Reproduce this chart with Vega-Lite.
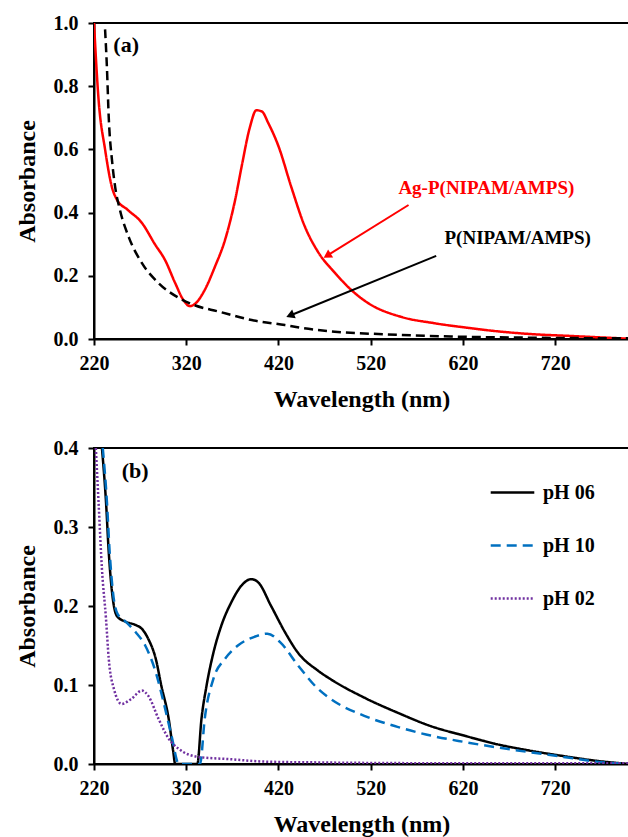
{
  "$schema": "https://vega.github.io/schema/vega-lite/v6.json",
  "padding": {"left": 14, "top": 12, "right": 0, "bottom": 0},
  "spacing": 25,
  "resolve": {"scale": {"color": "independent", "strokeDash": "independent"}, "legend": {"color": "independent", "strokeDash": "independent"}},
  "config": {
    "view": {"stroke": "black", "strokeWidth": 2},
    "font": "Liberation Serif, Times New Roman, DejaVu Serif, serif",
    "axis": {
      "domainColor": "black", "domainWidth": 2, "tickColor": "black", "tickWidth": 2, "tickSize": 6,
      "grid": false, "labelFont": "Liberation Serif, Times New Roman, DejaVu Serif, serif", "labelFontWeight": "bold", "labelFontSize": 20,
      "labelColor": "black", "titleFont": "Liberation Serif, Times New Roman, DejaVu Serif, serif", "titleFontWeight": "bold", "titleFontSize": 24,
      "titleColor": "black", "labelFlush": false, "labelOverlap": false
    },
    "axisX": {"labelPadding": 8, "titlePadding": 14},
    "axisY": {"labelPadding": 10, "titlePadding": 14}
  },
  "datasets": {
    "top": [
      {"series": "Ag", "nm": 220, "A": 1.0},
      {"series": "Ag", "nm": 225, "A": 0.756},
      {"series": "Ag", "nm": 232, "A": 0.6},
      {"series": "Ag", "nm": 239.5, "A": 0.48},
      {"series": "Ag", "nm": 245, "A": 0.44},
      {"series": "Ag", "nm": 256, "A": 0.41},
      {"series": "Ag", "nm": 272, "A": 0.367},
      {"series": "Ag", "nm": 286, "A": 0.30},
      {"series": "Ag", "nm": 297, "A": 0.25},
      {"series": "Ag", "nm": 308, "A": 0.177},
      {"series": "Ag", "nm": 317, "A": 0.123},
      {"series": "Ag", "nm": 324, "A": 0.104},
      {"series": "Ag", "nm": 329, "A": 0.11},
      {"series": "Ag", "nm": 340, "A": 0.155},
      {"series": "Ag", "nm": 351, "A": 0.228},
      {"series": "Ag", "nm": 362, "A": 0.313},
      {"series": "Ag", "nm": 373, "A": 0.44},
      {"series": "Ag", "nm": 380, "A": 0.545},
      {"series": "Ag", "nm": 389, "A": 0.67},
      {"series": "Ag", "nm": 396, "A": 0.724},
      {"series": "Ag", "nm": 402, "A": 0.72},
      {"series": "Ag", "nm": 409, "A": 0.683},
      {"series": "Ag", "nm": 420, "A": 0.61},
      {"series": "Ag", "nm": 434, "A": 0.48},
      {"series": "Ag", "nm": 448, "A": 0.36},
      {"series": "Ag", "nm": 463, "A": 0.275},
      {"series": "Ag", "nm": 481, "A": 0.21},
      {"series": "Ag", "nm": 499, "A": 0.155},
      {"series": "Ag", "nm": 517, "A": 0.114},
      {"series": "Ag", "nm": 553, "A": 0.07},
      {"series": "Ag", "nm": 589, "A": 0.05},
      {"series": "Ag", "nm": 626, "A": 0.035},
      {"series": "Ag", "nm": 662, "A": 0.023},
      {"series": "Ag", "nm": 697, "A": 0.015},
      {"series": "Ag", "nm": 734, "A": 0.01},
      {"series": "Ag", "nm": 770, "A": 0.005},
      {"series": "Ag", "nm": 800, "A": 0.001},
      {"series": "P", "nm": 232, "A": 0.98},
      {"series": "P", "nm": 234, "A": 0.86},
      {"series": "P", "nm": 236, "A": 0.70},
      {"series": "P", "nm": 239.5, "A": 0.566},
      {"series": "P", "nm": 243, "A": 0.48},
      {"series": "P", "nm": 248, "A": 0.41},
      {"series": "P", "nm": 258, "A": 0.32},
      {"series": "P", "nm": 272, "A": 0.24},
      {"series": "P", "nm": 290, "A": 0.177},
      {"series": "P", "nm": 312, "A": 0.13},
      {"series": "P", "nm": 329, "A": 0.107},
      {"series": "P", "nm": 355, "A": 0.087},
      {"series": "P", "nm": 391, "A": 0.06},
      {"series": "P", "nm": 427, "A": 0.044},
      {"series": "P", "nm": 445, "A": 0.035},
      {"series": "P", "nm": 481, "A": 0.023},
      {"series": "P", "nm": 535, "A": 0.015},
      {"series": "P", "nm": 607, "A": 0.008},
      {"series": "P", "nm": 697, "A": 0.004},
      {"series": "P", "nm": 800, "A": 0.002}
    ],
    "bottom": [
      {"pH": "pH 06", "nm": 228.6, "A": 0.4},
      {"pH": "pH 06", "nm": 233, "A": 0.332},
      {"pH": "pH 06", "nm": 236, "A": 0.268},
      {"pH": "pH 06", "nm": 239.5, "A": 0.218},
      {"pH": "pH 06", "nm": 245, "A": 0.187},
      {"pH": "pH 06", "nm": 254.5, "A": 0.18},
      {"pH": "pH 06", "nm": 265, "A": 0.176},
      {"pH": "pH 06", "nm": 272, "A": 0.171},
      {"pH": "pH 06", "nm": 279, "A": 0.158},
      {"pH": "pH 06", "nm": 287, "A": 0.133},
      {"pH": "pH 06", "nm": 293, "A": 0.099},
      {"pH": "pH 06", "nm": 301, "A": 0.057},
      {"pH": "pH 06", "nm": 306, "A": 0.015},
      {"pH": "pH 06", "nm": 308, "A": 0},
      {"pH": "pH 06", "nm": 332, "A": 0},
      {"pH": "pH 06", "nm": 336.5, "A": 0.057},
      {"pH": "pH 06", "nm": 342, "A": 0.099},
      {"pH": "pH 06", "nm": 349.5, "A": 0.141},
      {"pH": "pH 06", "nm": 358, "A": 0.175},
      {"pH": "pH 06", "nm": 369, "A": 0.205},
      {"pH": "pH 06", "nm": 380, "A": 0.226},
      {"pH": "pH 06", "nm": 390.5, "A": 0.234},
      {"pH": "pH 06", "nm": 398, "A": 0.23},
      {"pH": "pH 06", "nm": 412, "A": 0.2},
      {"pH": "pH 06", "nm": 427, "A": 0.167},
      {"pH": "pH 06", "nm": 441, "A": 0.141},
      {"pH": "pH 06", "nm": 463, "A": 0.118},
      {"pH": "pH 06", "nm": 477, "A": 0.107},
      {"pH": "pH 06", "nm": 513, "A": 0.084},
      {"pH": "pH 06", "nm": 549, "A": 0.065},
      {"pH": "pH 06", "nm": 585, "A": 0.048},
      {"pH": "pH 06", "nm": 621, "A": 0.036},
      {"pH": "pH 06", "nm": 657, "A": 0.025},
      {"pH": "pH 06", "nm": 692, "A": 0.017},
      {"pH": "pH 06", "nm": 729, "A": 0.01},
      {"pH": "pH 06", "nm": 765, "A": 0.004},
      {"pH": "pH 06", "nm": 800, "A": 0},
      {"pH": "pH 10", "nm": 229.5, "A": 0.4},
      {"pH": "pH 10", "nm": 234, "A": 0.332},
      {"pH": "pH 10", "nm": 237, "A": 0.268},
      {"pH": "pH 10", "nm": 240.5, "A": 0.218},
      {"pH": "pH 10", "nm": 245.5, "A": 0.19},
      {"pH": "pH 10", "nm": 254.5, "A": 0.18},
      {"pH": "pH 10", "nm": 265, "A": 0.167},
      {"pH": "pH 10", "nm": 275.5, "A": 0.15},
      {"pH": "pH 10", "nm": 287, "A": 0.116},
      {"pH": "pH 10", "nm": 295.5, "A": 0.078},
      {"pH": "pH 10", "nm": 304, "A": 0.036},
      {"pH": "pH 10", "nm": 312, "A": 0},
      {"pH": "pH 10", "nm": 335, "A": 0},
      {"pH": "pH 10", "nm": 340, "A": 0.057},
      {"pH": "pH 10", "nm": 349.5, "A": 0.108},
      {"pH": "pH 10", "nm": 362, "A": 0.133},
      {"pH": "pH 10", "nm": 376, "A": 0.15},
      {"pH": "pH 10", "nm": 394, "A": 0.161},
      {"pH": "pH 10", "nm": 408, "A": 0.165},
      {"pH": "pH 10", "nm": 422, "A": 0.154},
      {"pH": "pH 10", "nm": 441, "A": 0.125},
      {"pH": "pH 10", "nm": 463, "A": 0.095},
      {"pH": "pH 10", "nm": 477, "A": 0.082},
      {"pH": "pH 10", "nm": 513, "A": 0.061},
      {"pH": "pH 10", "nm": 549, "A": 0.047},
      {"pH": "pH 10", "nm": 585, "A": 0.036},
      {"pH": "pH 10", "nm": 621, "A": 0.028},
      {"pH": "pH 10", "nm": 657, "A": 0.021},
      {"pH": "pH 10", "nm": 692, "A": 0.015},
      {"pH": "pH 10", "nm": 729, "A": 0.009},
      {"pH": "pH 10", "nm": 765, "A": 0.003},
      {"pH": "pH 10", "nm": 800, "A": 0},
      {"pH": "pH 02", "nm": 222, "A": 0.4},
      {"pH": "pH 02", "nm": 225, "A": 0.33},
      {"pH": "pH 02", "nm": 228.6, "A": 0.247},
      {"pH": "pH 02", "nm": 233, "A": 0.184},
      {"pH": "pH 02", "nm": 236, "A": 0.133},
      {"pH": "pH 02", "nm": 241.6, "A": 0.095},
      {"pH": "pH 02", "nm": 250, "A": 0.076},
      {"pH": "pH 02", "nm": 260, "A": 0.082},
      {"pH": "pH 02", "nm": 272, "A": 0.093},
      {"pH": "pH 02", "nm": 279, "A": 0.086},
      {"pH": "pH 02", "nm": 290, "A": 0.057},
      {"pH": "pH 02", "nm": 301, "A": 0.032},
      {"pH": "pH 02", "nm": 312, "A": 0.019},
      {"pH": "pH 02", "nm": 333, "A": 0.009},
      {"pH": "pH 02", "nm": 369, "A": 0.006},
      {"pH": "pH 02", "nm": 405, "A": 0.003},
      {"pH": "pH 02", "nm": 463, "A": 0.002},
      {"pH": "pH 02", "nm": 600, "A": 0.001},
      {"pH": "pH 02", "nm": 800, "A": 0.001}
    ]
  },
  "vconcat": [
    {
      "width": 535,
      "height": 316,
      "layer": [
        {
          "data": {"name": "top"},
          "mark": {"type": "line", "strokeWidth": 2.5, "interpolate": "monotone", "clip": true},
          "encoding": {
            "x": {"field": "nm", "type": "quantitative", "title": "Wavelength (nm)",
                  "scale": {"domain": [220, 800], "nice": false, "zero": false},
                  "axis": {"values": [220, 320, 420, 520, 620, 720], "format": "d"}},
            "y": {"field": "A", "type": "quantitative", "title": "Absorbance",
                  "scale": {"domain": [0, 1], "nice": false},
                  "axis": {"values": [0, 0.2, 0.4, 0.6, 0.8, 1.0], "format": ".1f"}},
            "color": {"field": "series", "type": "nominal", "legend": null,
                      "scale": {"domain": ["Ag", "P"], "range": ["#ff0000", "black"]}},
            "strokeDash": {"field": "series", "type": "nominal", "legend": null,
                           "scale": {"domain": ["Ag", "P"], "range": [[1, 0], [9, 5]]}}
          }
        },
        {
          "data": {"values": [
            {"x": 561, "y": 0.424, "x2": 474, "y2": 0.266, "c": "red"},
            {"x": 591, "y": 0.263, "x2": 434, "y2": 0.076, "c": "black"}
          ]},
          "mark": {"type": "rule", "strokeWidth": 2},
          "encoding": {
            "x": {"field": "x", "type": "quantitative"},
            "y": {"field": "y", "type": "quantitative"},
            "x2": {"field": "x2"},
            "y2": {"field": "y2"},
            "color": {"field": "c", "type": "nominal", "scale": null}
          }
        },
        {
          "data": {"values": [
            {"x": 474, "y": 0.266, "c": "red", "ang": 238},
            {"x": 434, "y": 0.076, "c": "black", "ang": 248}
          ]},
          "mark": {"type": "point", "shape": "triangle", "filled": true, "size": 90, "opacity": 1},
          "encoding": {
            "x": {"field": "x", "type": "quantitative"},
            "y": {"field": "y", "type": "quantitative"},
            "color": {"field": "c", "type": "nominal", "scale": null},
            "angle": {"field": "ang", "type": "quantitative", "scale": null}
          }
        },
        {
          "data": {"values": [
            {"x": 241, "y": 0.93, "t": "(a)", "c": "black", "s": 22},
            {"x": 550, "y": 0.478, "t": "Ag-P(NIPAM/AMPS)", "c": "red", "s": 19},
            {"x": 600, "y": 0.32, "t": "P(NIPAM/AMPS)", "c": "black", "s": 19}
          ]},
          "mark": {"type": "text", "align": "left", "baseline": "middle", "font": "Liberation Serif, Times New Roman, DejaVu Serif, serif", "fontWeight": "bold"},
          "encoding": {
            "x": {"field": "x", "type": "quantitative"},
            "y": {"field": "y", "type": "quantitative"},
            "text": {"field": "t"},
            "size": {"field": "s", "type": "quantitative", "scale": null},
            "color": {"field": "c", "type": "nominal", "scale": null}
          }
        }
      ]
    },
    {
      "width": 535,
      "height": 316,
      "layer": [
        {
          "data": {"name": "bottom"},
          "mark": {"type": "line", "strokeWidth": 2.5, "interpolate": "monotone", "clip": true},
          "encoding": {
            "x": {"field": "nm", "type": "quantitative", "title": "Wavelength (nm)",
                  "scale": {"domain": [220, 800], "nice": false, "zero": false},
                  "axis": {"values": [220, 320, 420, 520, 620, 720], "format": "d"}},
            "y": {"field": "A", "type": "quantitative", "title": "Absorbance",
                  "scale": {"domain": [0, 0.4], "nice": false},
                  "axis": {"values": [0, 0.1, 0.2, 0.3, 0.4], "format": ".1f"}},
            "color": {"field": "pH", "type": "nominal",
                      "scale": {"domain": ["pH 06", "pH 10", "pH 02"], "range": ["black", "#0070C0", "#7030A0"]},
                      "legend": {"title": null, "orient": "none", "legendX": 395, "legendY": 21,
                                 "labelFont": "Liberation Serif, Times New Roman, DejaVu Serif, serif", "labelFontWeight": "bold", "labelFontSize": 20,
                                 "labelColor": "black", "symbolType": "stroke", "symbolSize": 1900,
                                 "symbolStrokeWidth": 2.5, "rowPadding": 19, "labelOffset": 7}},
            "strokeDash": {"field": "pH", "type": "nominal",
                           "scale": {"domain": ["pH 06", "pH 10", "pH 02"], "range": [[1, 0], [10, 6], [2, 2]]}}
          }
        },
        {
          "data": {"values": [{"x": 250, "y": 0.371, "t": "(b)"}]},
          "mark": {"type": "text", "align": "left", "baseline": "middle", "font": "Liberation Serif, Times New Roman, DejaVu Serif, serif", "fontWeight": "bold", "fontSize": 22, "color": "black"},
          "encoding": {
            "x": {"field": "x", "type": "quantitative"},
            "y": {"field": "y", "type": "quantitative"},
            "text": {"field": "t"}
          }
        }
      ]
    }
  ]
}
